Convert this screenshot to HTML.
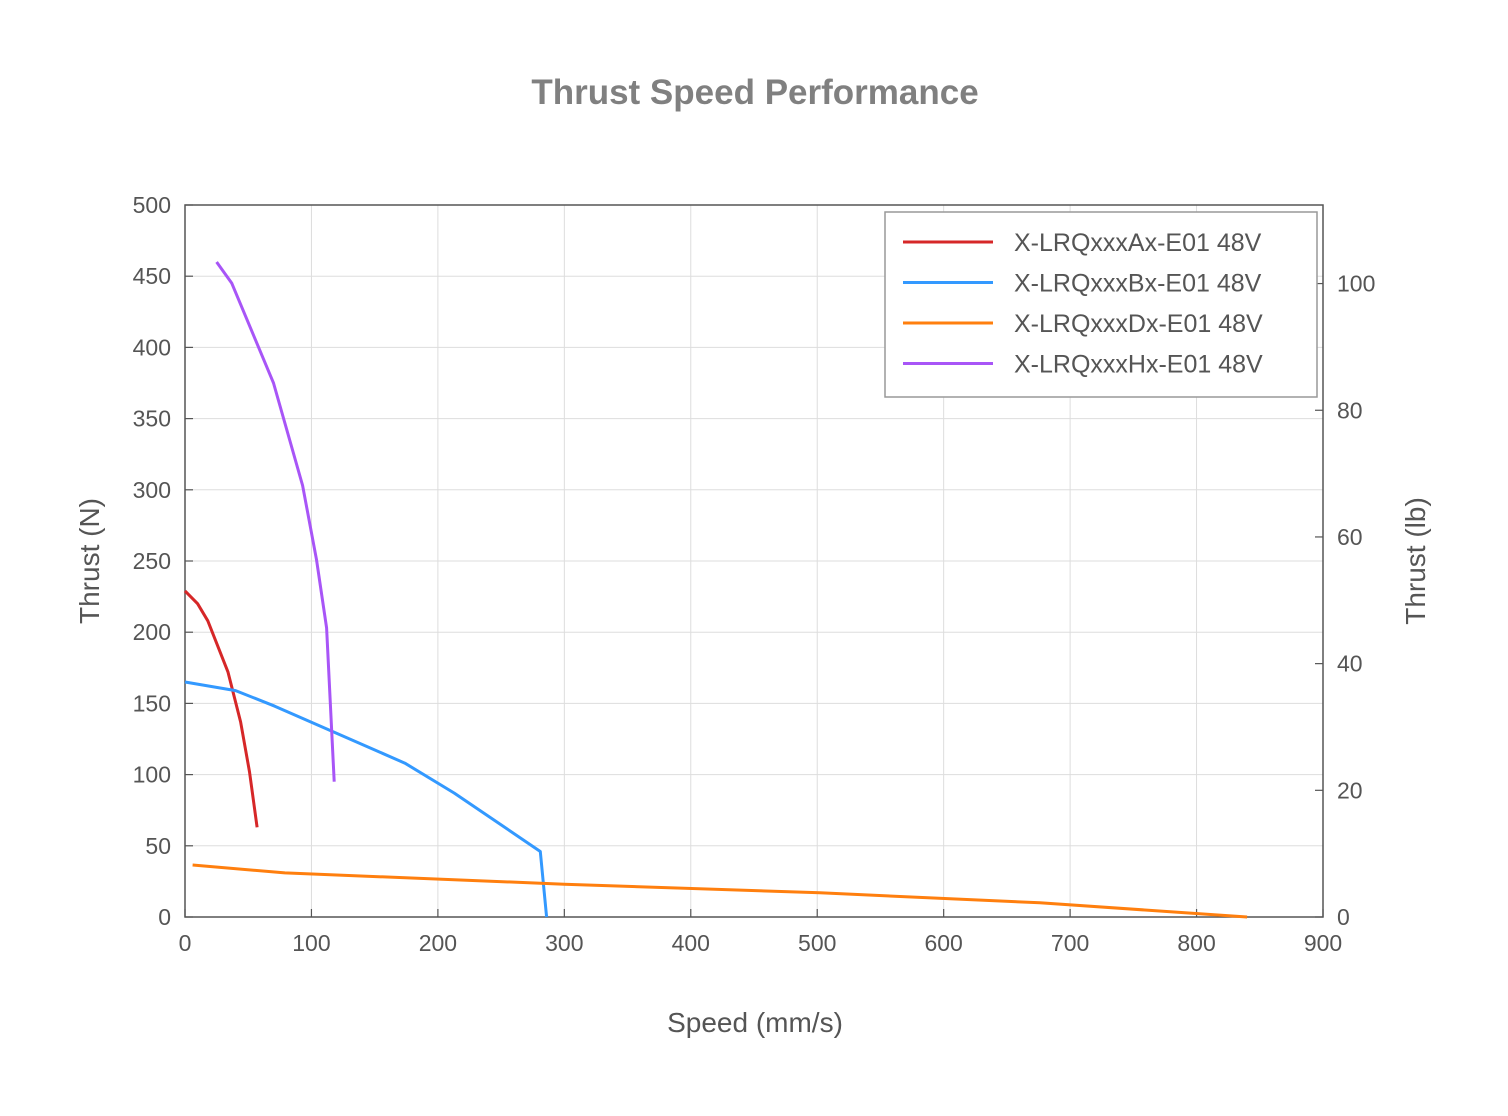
<!DOCTYPE html>
<html><head><meta charset="utf-8">
<style>
html,body{margin:0;padding:0;background:#fff;}
svg{display:block;font-family:"Liberation Sans",Arial,sans-serif;}
</style></head>
<body>
<svg id="chart" width="1508" height="1116" viewBox="0 0 1508 1116" xmlns="http://www.w3.org/2000/svg">
<rect width="1508" height="1116" fill="#fff"/>
<text x="755" y="104" text-anchor="middle" font-size="35" font-weight="bold" fill="#808080">Thrust Speed Performance</text>
<g id="grid"></g>
<g id="ticks"></g>
<rect x="185" y="205" width="1138" height="712" fill="none" stroke="#555" stroke-width="1.5"/>
<g id="series"></g>
<text x="755" y="1032" text-anchor="middle" font-size="28" fill="#555">Speed (mm/s)</text>
<text transform="translate(99,561) rotate(-90)" text-anchor="middle" font-size="28" fill="#555">Thrust (N)</text>
<text transform="translate(1425,561) rotate(-90)" text-anchor="middle" font-size="28" fill="#555">Thrust (lb)</text>
<g>
<rect x="885" y="212" width="432" height="185" fill="#fff" stroke="#999" stroke-width="1.5"/>
<g id="legend-items"></g>
</g>
</svg>
<script>
const seriesNames = ["X-LRQxxxAx-E01 48V","X-LRQxxxBx-E01 48V","X-LRQxxxDx-E01 48V","X-LRQxxxHx-E01 48V"];
const seriesColors = ["#d62728","#3399ff","#ff7f0e","#a855f7"];
const seriesA_x = [0,10,18,34,44,51,57];
const seriesA_y = [229,220,208,172,137,102,63];
const seriesB_x = [0,40,71,174,213,281,286];
const seriesB_y = [165,159,148,108,87,46,0];
const seriesD_x = [6,79,300,502,676,840];
const seriesD_y = [36.5,31,23,17,10,0];
const seriesH_x = [25,37,70,93,104,112,118];
const seriesH_y = [460,445,375,303,251,203,95];
const xTicks = [0,100,200,300,400,500,600,700,800,900];
const yTicks = [0,50,100,150,200,250,300,350,400,450,500];
const yRightTicks = [0,20,40,60,80,100];

const NS="http://www.w3.org/2000/svg";
const X0=185,X1=1323,Y0=917,Y1=205;
const xs=v=>X0+(v/900)*(X1-X0);
const ys=v=>Y0-(v/500)*(Y0-Y1);
const ysLb=v=>ys(v*4.44822);
function mk(tag,attrs,parent){const e=document.createElementNS(NS,tag);for(const k in attrs)e.setAttribute(k,attrs[k]);parent.appendChild(e);return e;}
const grid=document.getElementById('grid'),ticks=document.getElementById('ticks');
xTicks.forEach(t=>{
  const l=mk('line',{x1:xs(t),x2:xs(t),y1:Y1,y2:Y0,stroke:'#ddd','stroke-width':1},grid);
  
  
  const tk=mk('line',{x1:xs(t),x2:xs(t),y1:Y0,y2:Y0-8,stroke:'#555','stroke-width':1.2},ticks);
  
  
  const tx=mk('text',{x:xs(t),y:Y0+34,'text-anchor':'middle','font-size':23,fill:'#555'},ticks);
  tx.textContent=t;
  
  
});
yTicks.forEach(t=>{
  const l=mk('line',{x1:X0,x2:X1,y1:ys(t),y2:ys(t),stroke:'#ddd','stroke-width':1},grid);
  
  
  const tk=mk('line',{x1:X0,x2:X0+8,y1:ys(t),y2:ys(t),stroke:'#555','stroke-width':1.2},ticks);
  
  
  const tx=mk('text',{x:X0-14,y:ys(t)+8,'text-anchor':'end','font-size':23,fill:'#555'},ticks);
  tx.textContent=t;
  
  
});
yRightTicks.forEach(t=>{
  const tk=mk('line',{x1:X1,x2:X1-8,y1:ysLb(t),y2:ysLb(t),stroke:'#555','stroke-width':1.2},ticks);
  
  
  const tx=mk('text',{x:X1+14,y:ysLb(t)+8,'text-anchor':'start','font-size':23,fill:'#555'},ticks);
  tx.textContent=t;
  
  
});
const allX=[seriesA_x,seriesB_x,seriesD_x,seriesH_x],allY=[seriesA_y,seriesB_y,seriesD_y,seriesH_y];
const sg=document.getElementById('series'),lg=document.getElementById('legend-items');
allX.forEach((xa,i)=>{
  const pts=xa.map((v,j)=>xs(v).toFixed(1)+','+ys(allY[i][j]).toFixed(1)).join(' ');
  const p=mk('polyline',{points:pts,fill:'none',stroke:seriesColors[i],'stroke-width':3,'stroke-linejoin':'round'},sg);
  
  
  const y=242+i*40.5;
  const ll=mk('line',{x1:903,x2:993,y1:y,y2:y,stroke:seriesColors[i],'stroke-width':3},lg);
  
  
  const lt=mk('text',{x:1014,y:y+9,'font-size':25,fill:'#555'},lg);
  lt.textContent=seriesNames[i];
  
  
});
</script>
</body></html>
